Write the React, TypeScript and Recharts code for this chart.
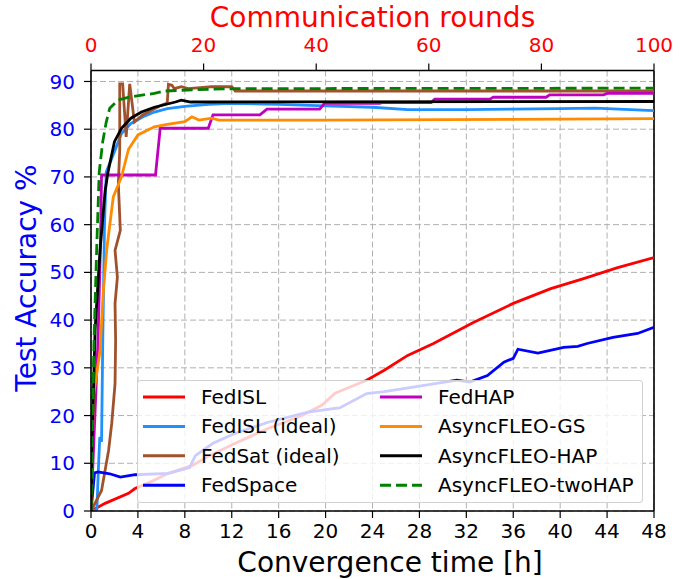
import React from 'react';
import { LineChart, Line, XAxis, YAxis, CartesianGrid, ReferenceLine } from 'recharts';

type Pt = [number, number];

const hourTicks = [0, 4, 8, 12, 16, 20, 24, 28, 32, 36, 40, 44, 48];
const roundTicks = [0, 20, 40, 60, 80, 100];
const accTicks = [0, 10, 20, 30, 40, 50, 60, 70, 80, 90];

// [hours, accuracy %]
const fedIsl: Pt[] = [
  [0, 0], [1.2, 1.6], [3.2, 3.7], [3.75, 4.7], [5, 6.0], [6.6, 7.9], [8.7, 9.6], [10, 11.5],
  [12.3, 14.2], [15.1, 17.3], [18, 20], [19.7, 22.2], [20.8, 24.7], [23.5, 27.4], [25, 29.5],
  [27, 32.6], [29.2, 35.1], [32.6, 39.5], [36, 43.5], [39.2, 46.6], [42, 48.7], [44.9, 51], [48, 53.1],
];
const fedIslIdeal: Pt[] = [
  [0, 0], [0.5, 0.3], [0.65, 10], [0.75, 15.5], [0.9, 14.5], [1.0, 35], [1.15, 60], [1.3, 71],
  [2.0, 75.3], [2.6, 79.1], [3.4, 81.2], [4.6, 82.8], [5.4, 83.6], [6.5, 84.3], [8, 84.8],
  [10, 85.2], [12, 85.4], [16, 85.2], [20, 84.9], [24, 84.6], [27, 84.1], [32, 84.1], [36, 84.2],
  [40, 84.3], [43, 84.4], [48, 83.9],
];
const fedSatIdeal: Pt[] = [
  [0, 0], [0.9, 4.3], [1.5, 12.7], [1.77, 18.4], [2.05, 26.7], [2.1, 35.8], [2.05, 43.5],
  [2.25, 49], [2.05, 54.6], [2.5, 58.8], [2.33, 68.6], [2.45, 75.6], [2.45, 89.5], [2.7, 89.5],
  [3.0, 78.4], [3.3, 89.5], [3.7, 81.5], [4.4, 83], [5.2, 84], [6.0, 85], [6.5, 85.5],
  [6.6, 89.4], [6.9, 89.2], [7.1, 88.5], [7.7, 88.9], [8.3, 88.5], [10.3, 88.9], [12, 88.9],
  [12.3, 88.0], [48, 88.0],
];
const fedSpace: Pt[] = [
  [0, 0], [0.3, 8.0], [0.6, 8.2], [1.6, 7.8], [2.5, 7.1], [3.75, 7.6], [6.6, 7.9], [8.4, 9.1],
  [8.9, 11.6], [10.4, 14.2], [12.3, 16.3], [15.1, 18.6], [18.5, 20.7], [20.8, 21.5], [21.2, 21.6],
  [23.5, 24.6], [25, 25], [27.6, 26], [31.2, 27.4], [32.3, 27.0], [33.8, 28.4], [35.2, 31.2],
  [36, 32], [36.4, 33.9], [38.1, 33.1], [40.3, 34.3], [41.5, 34.5], [42.3, 35.1], [44.5, 36.4],
  [46.6, 37.2], [48, 38.5],
];
const fedHap: Pt[] = [
  [0, 0], [0.2, 12], [0.6, 36], [0.8, 55], [0.9, 70.4], [5.5, 70.4], [5.9, 80.2], [10, 80.2],
  [10.4, 83], [14.4, 83], [15, 84.2], [19.5, 84.2], [19.9, 85.4], [24.6, 85.4], [24.9, 85.6],
  [29, 85.6], [29.3, 86.3], [34, 86.3], [34.3, 86.7], [38.8, 86.7], [39.1, 87.2], [43.7, 87.2],
  [44, 87.5], [48, 87.5],
];
const asyncGs: Pt[] = [
  [0, 0], [0.2, 24], [0.77, 33.6], [1.05, 46], [1.35, 55], [1.9, 65.8], [2.6, 70], [3.2, 75.8],
  [4, 78.8], [5.4, 80.5], [6.5, 81], [8, 81.6], [8.6, 82.6], [9.2, 81.9], [10.3, 82.3],
  [10.9, 81.9], [20, 81.9], [30, 82], [40, 82.1], [48, 82.2],
];
const asyncHap: Pt[] = [
  [0, 0], [0.15, 20], [0.35, 38], [0.77, 54.6], [1.2, 67], [1.45, 71], [2, 77.4], [2.6, 80.2],
  [3.4, 82.3], [4.3, 83.6], [5.4, 84.6], [7.2, 85.7], [7.7, 86.1], [8.5, 85.7], [48, 85.8],
];
const asyncTwoHap: Pt[] = [
  [0, 0], [0.1, 15], [0.25, 35], [0.48, 54.6], [0.7, 71], [1.0, 77.4], [1.3, 81.5], [1.6, 84.4],
  [2.3, 86.1], [3.4, 86.8], [5.4, 87.5], [6.3, 88], [9, 88.3], [12.3, 88.5], [48, 88.6],
];

const series = [
  { name: 'FedISL', color: '#ff0000', pts: fedIsl },
  { name: 'FedISL (ideal)', color: '#1e90ff', pts: fedIslIdeal },
  { name: 'FedSat (ideal)', color: '#a0522d', pts: fedSatIdeal },
  { name: 'FedSpace', color: '#0000ff', pts: fedSpace },
  { name: 'FedHAP', color: '#bf00bf', pts: fedHap },
  { name: 'AsyncFLEO-GS', color: '#ff8c00', pts: asyncGs },
  { name: 'AsyncFLEO-HAP', color: '#000000', pts: asyncHap },
  { name: 'AsyncFLEO-twoHAP', color: '#008000', pts: asyncTwoHap, dash: '11 5' },
];

const toRows = (pts: Pt[]) => pts.map(([t, acc]) => ({ t, acc }));
// empty carrier so the top (rounds) axis is drawn
const roundRows = roundTicks.map((r) => ({ r, acc: null }));

const FONT = 'DejaVu Sans';

const Legend = () => (
  <div
    style={{
      position: 'absolute', left: 137, top: 380, width: 506, height: 123,
      background: 'rgba(255,255,255,0.8)', border: '1px solid rgba(204,204,204,0.9)',
      borderRadius: 4, boxSizing: 'border-box',
    }}
  >
    <svg width={506} height={123} style={{ position: 'absolute', left: -1, top: -1 }}>
      {series.map((s, i) => {
        const col = i < 4 ? 0 : 1;
        const row = i % 4;
        const x0 = col === 0 ? 6 : 243;
        const y = 17 + row * 29.4;
        return (
          <g key={s.name}>
            <line x1={x0} x2={x0 + 42} y1={y} y2={y} stroke={s.color} strokeWidth={3} strokeDasharray={s.dash} />
            <text x={x0 + 58} y={y + 7} fontSize={20} fontFamily={FONT} fill="#000">{s.name}</text>
          </g>
        );
      })}
    </svg>
  </div>
);

export default function App() {
  return (
    <div style={{ position: 'absolute', left: 0, top: 0, width: 689, height: 579, background: '#fff' }}>
      <LineChart width={689} height={579} margin={{ top: 0, right: 35, bottom: 0, left: 0 }}>
        <CartesianGrid xAxisId="b" yAxisId="l" stroke="#b0b0b0" strokeDasharray="6 3" strokeWidth={1} />
        <XAxis
          xAxisId="b" dataKey="t" type="number" domain={[0, 48]} ticks={hourTicks} interval={0}
          allowDataOverflow height={68} tickSize={7} tickMargin={6}
          axisLine={{ stroke: '#000', strokeWidth: 1.6 }} tickLine={{ stroke: '#000', strokeWidth: 1.2 }}
          tick={{ fill: '#000', fontSize: 20, fontFamily: FONT }}
        />
        <XAxis
          xAxisId="t" dataKey="r" orientation="top" type="number" domain={[0, 100]} ticks={roundTicks}
          interval={0} allowDataOverflow height={70.5} tickSize={7} tickMargin={12}
          axisLine={{ stroke: '#000', strokeWidth: 1.6 }} tickLine={{ stroke: '#000', strokeWidth: 1.2 }}
          tick={{ fill: '#ff0000', fontSize: 20, fontFamily: FONT }}
        />
        <YAxis
          yAxisId="l" type="number" domain={[0, 92.3]} ticks={accTicks} interval={0}
          allowDataOverflow width={91} tickSize={7} tickMargin={9}
          axisLine={{ stroke: '#000', strokeWidth: 1.6 }} tickLine={{ stroke: '#000', strokeWidth: 1.2 }}
          tick={{ fill: '#0000ff', fontSize: 20, fontFamily: FONT }}
        />
        <ReferenceLine xAxisId="b" yAxisId="l" x={48} stroke="#000" strokeWidth={1.6} />
        <Line
          xAxisId="t" yAxisId="l" data={roundRows} dataKey="acc" stroke="none"
          dot={false} activeDot={false} legendType="none" isAnimationActive={false}
        />
        {series.map((s) => (
          <Line
            key={s.name} xAxisId="b" yAxisId="l" data={toRows(s.pts)} dataKey="acc" name={s.name}
            type="linear" stroke={s.color} strokeWidth={2.8} strokeDasharray={s.dash}
            dot={false} activeDot={false} isAnimationActive={false}
          />
        ))}
      </LineChart>
      <svg width={689} height={579} style={{ position: 'absolute', left: 0, top: 0, pointerEvents: 'none' }}>
        <text x={372.5} y={27} textAnchor="middle" fontSize={28} fontFamily={FONT} fill="#ff0000">
          Communication rounds
        </text>
        <text x={390} y={572} textAnchor="middle" fontSize={28} fontFamily={FONT} fill="#000">
          Convergence time [h]
        </text>
        <text
          x={0} y={0} textAnchor="middle" fontSize={28} fontFamily={FONT} fill="#0000ff"
          transform="translate(36 278) rotate(-90)"
        >
          Test Accuracy %
        </text>
      </svg>
      <Legend />
    </div>
  );
}
